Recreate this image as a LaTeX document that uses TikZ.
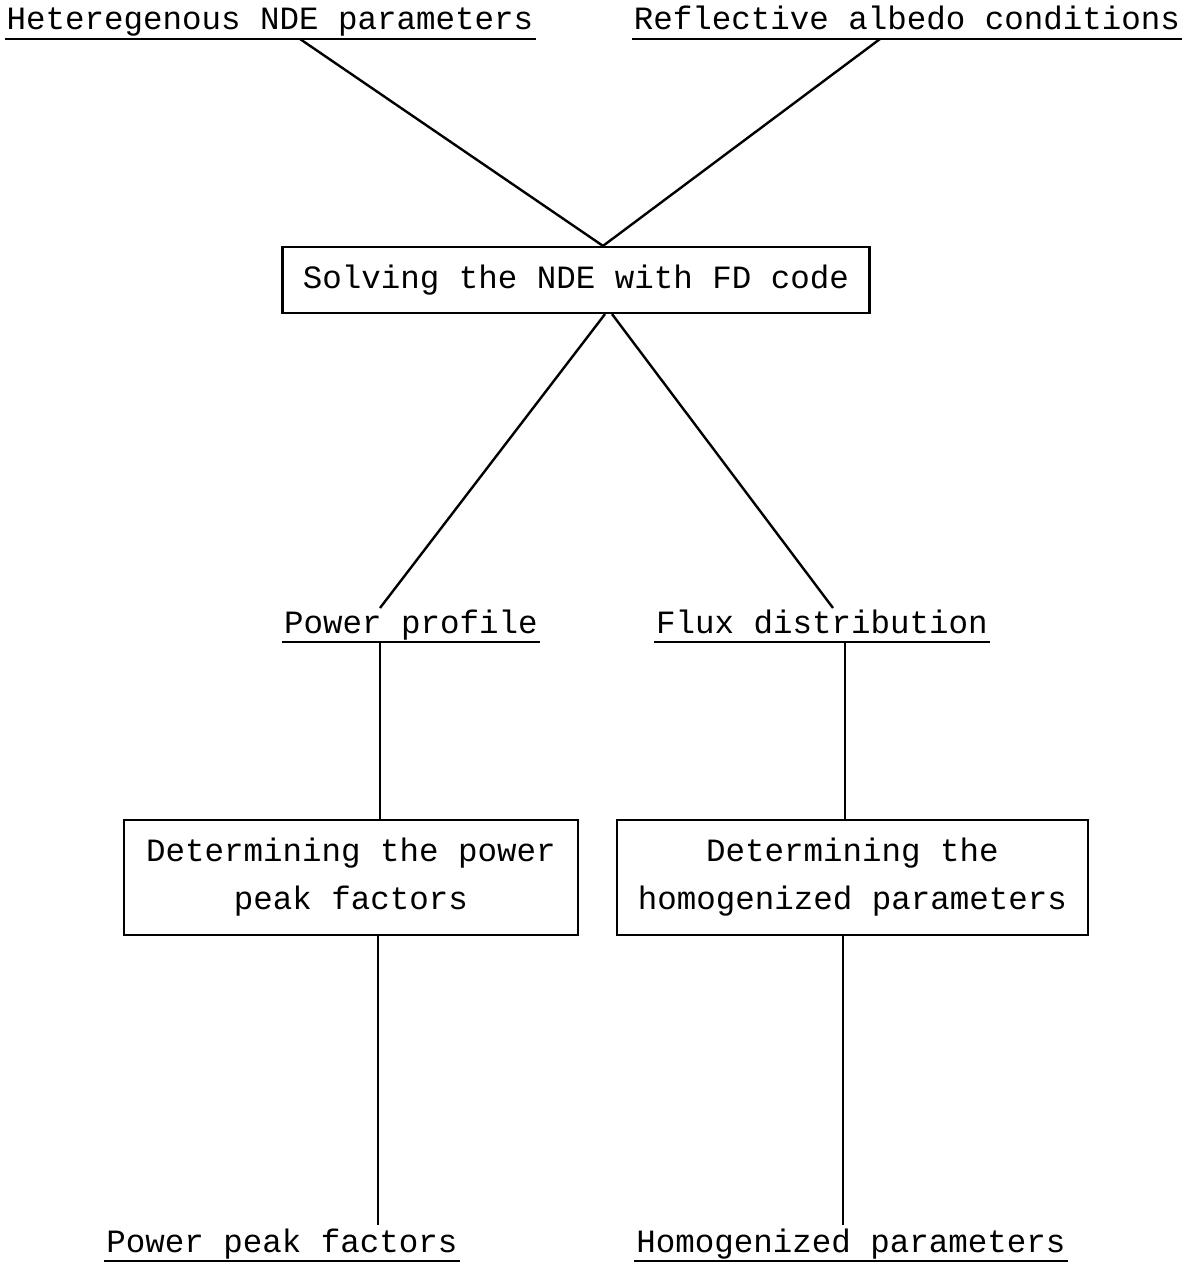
\documentclass[tikz,border=0pt]{standalone}
\usepackage{fontspec}
\setmainfont{Liberation Mono}
\usetikzlibrary{calc}
\begin{document}
\begin{tikzpicture}[x=1pt,y=-1pt,
  lbl/.style={inner sep=0pt, anchor=base, font=\fontsize{32.5}{48}\selectfont},
  boxn/.style={draw, line width=2.2pt, inner sep=0pt, align=center, font=\fontsize{32.5}{48}\selectfont},
  ln/.style={line width=2.4pt},
  ul/.style={line width=2.4pt}]
\useasboundingbox (0,0) rectangle (1190,1265);
% labels
\node[lbl] (het)  at (270,30)   {Heteregenous NDE parameters};
\node[lbl] (refl) at (907,30)   {Reflective albedo conditions};
\node[lbl] (pp)   at (411,633)  {Power profile};
\node[lbl] (fd)   at (822,633)  {Flux distribution};
\node[lbl] (ppf)  at (282,1252) {Power peak factors};
\node[lbl] (hom)  at (851,1252) {Homogenized parameters};
% boxes
\node[boxn, minimum width=587pt, minimum height=66pt] (solve) at (576,280) {Solving the NDE with FD code};
\node[boxn, minimum width=454pt, minimum height=115pt] (det1) at (351,877.5) {Determining the power\\peak factors};
\node[boxn, minimum width=471pt, minimum height=115pt] (det2) at (852.5,877.5) {Determining the\\homogenized parameters};
% underlines
\foreach \n in {het,refl,pp,fd,ppf,hom}{
  \draw[ul] ([xshift=-2pt,yshift=-9pt]\n.base west) -- ([xshift=2pt,yshift=-9pt]\n.base east);
}
% connectors
\draw[ln] ([xshift=30pt,yshift=-9pt]het.base) -- ([xshift=27pt]solve.north);
\draw[ln] ([xshift=-27pt,yshift=-9pt]refl.base) -- ([xshift=27pt]solve.north);
\draw[ln] ([xshift=29pt]solve.south) -- ([xshift=-31pt,yshift=25pt]pp.base);
\draw[ln] ([xshift=36pt]solve.south) -- ([xshift=11pt,yshift=25pt]fd.base);
\draw[ln] ([xshift=-31pt,yshift=-9pt]pp.base) -- ([xshift=29pt]det1.north);
\draw[ln] ([xshift=23pt,yshift=-9pt]fd.base) -- ([xshift=-7.5pt]det2.north);
\draw[ln] ([xshift=27pt]det1.south) -- ([xshift=96pt,yshift=27pt]ppf.base);
\draw[ln] ([xshift=-9.5pt]det2.south) -- ([xshift=-8pt,yshift=27pt]hom.base);
\end{tikzpicture}
\end{document}
